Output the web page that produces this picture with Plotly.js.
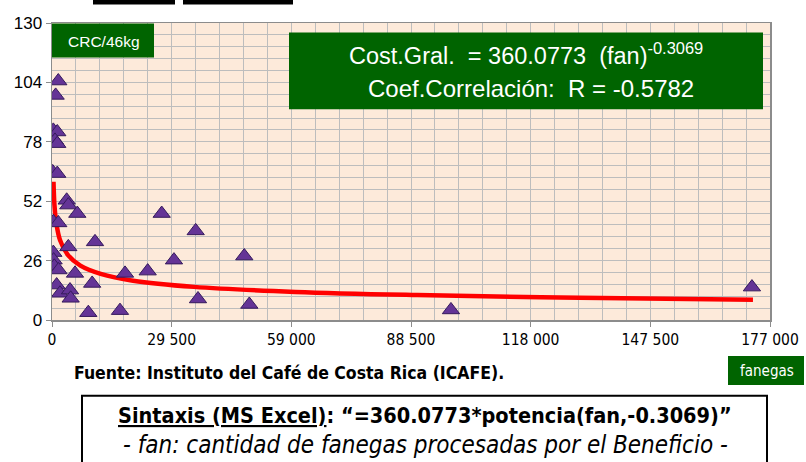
<!DOCTYPE html>
<html><head><meta charset="utf-8">
<script src="https://cdn.plot.ly/plotly-3.0.1.min.js"></script>
<style>html,body{margin:0;padding:0;background:#fff;}#chart{width:806px;height:462px;}</style>
</head><body><div id="chart"></div>
<script>
// Data
const fanegas = [1550, 900, 330, 1300, 740, 1300, 170, 1300, 3620, 4020, 6240, 330, 1550, 27040, 35420, 10600, 4020, 330, 400, 570, 1600, 5670, 18000, 23590, 30070, 47400, 1150, 1970, 4440, 4600, 9900, 35990, 48640, 8950, 16760, 98350, 172550];
const costo   = [104.6, 98.3, 83.0, 82.3, 78.6, 77.2, 64.8, 64.1, 52.4, 50.3, 46.6, 43.0, 42.5, 46.6, 39.0, 34.2, 32.0, 29.5, 26.2, 23.5, 21.9, 20.4, 20.4, 21.4, 26.2, 28.0, 15.3, 11.7, 13.1, 9.5, 16.0, 9.2, 6.8, 3.2, 4.1, 4.4, 14.4];
// Trend curve
const trendX = [370, 600, 1000, 2000, 4000, 7000, 12000, 20000, 35000, 60000, 90000, 130000, 172800];
const trendY = [60.5, 50.5, 43.2, 34.9, 28.3, 23.8, 20.2, 17.2, 14.5, 12.3, 10.9, 9.7, 8.9];
// Tick labels
const xTickVals = [0, 29500, 59000, 88500, 118000, 147500, 177000];
const xTickText = ['0', '29 500', '59 000', '88 500', '118 000', '147 500', '177 000'];
const yTickVals = [0, 26, 52, 78, 104, 130];

const W = 806, H = 462, L = 52, R = 770, T = 22.5, B = 320;
const px = v => (v - L) / (R - L);
const py = v => (B - v) / (B - T);
const green = '#006400';
const narrow = 'DejaVu Sans Condensed, Arial Narrow, sans-serif';
const arial = 'Liberation Sans, Arial, sans-serif';

const traces = [
  {x: trendX, y: trendY, type: 'scatter', mode: 'lines', line: {color: '#FF0000', width: 4.5, shape: 'spline'}, hoverinfo: 'skip'},
  {x: fanegas, y: costo, type: 'scatter', mode: 'markers',
   marker: {symbol: 'triangle-up', size: 15, color: '#643496', line: {color: '#351A5C', width: 1}}}
];

const rect = (x0, y0, x1, y1, fill, lineColor, lw) => ({type: 'rect', xref: 'paper', yref: 'paper',
  x0: px(x0), x1: px(x1), y0: py(y1), y1: py(y0), fillcolor: fill, line: {color: lineColor || fill, width: lw || 0}, layer: 'above'});

const layout = {
  width: W, height: H, showlegend: false,
  margin: {l: L, r: W - R, t: T, b: H - B, pad: 0},
  paper_bgcolor: '#FFFFFF', plot_bgcolor: '#FDEADA',
  xaxis: {range: [0, 177000], tickvals: xTickVals, ticktext: xTickText, showgrid: true, gridcolor: '#BDBDBD', gridwidth: 1,
    minor: {dtick: 5900, tick0: 0, showgrid: true, gridcolor: '#BDBDBD', gridwidth: 1},
    zeroline: false, showline: true, linecolor: '#8C8C8C', linewidth: 1.5, mirror: true,
    ticks: 'outside', ticklen: 5, tickcolor: '#8C8C8C', tickfont: {family: narrow, size: 15.5, color: '#000'}},
  yaxis: {range: [0, 130], tickvals: yTickVals, showgrid: true, gridcolor: '#BDBDBD', gridwidth: 1,
    minor: {dtick: 5.2, tick0: 0, showgrid: true, gridcolor: '#BDBDBD', gridwidth: 1},
    zeroline: false, showline: true, linecolor: '#8C8C8C', linewidth: 1.5, mirror: true,
    ticks: 'outside', ticklen: 5, tickcolor: '#8C8C8C', tickfont: {family: arial, size: 17, color: '#000'}},
  shapes: [
    rect(52, 23, 154, 57, green),
    rect(289, 32, 763, 109, green),
    rect(728, 356, 804, 385, green),
    rect(82, 396, 767, 475, 'rgba(0,0,0,0)', '#000', 2),
    rect(93, -2, 175, 4, '#000'),
    rect(183, -2, 293, 4, '#000')
  ],
  annotations: [
    {xref: 'paper', yref: 'paper', x: px(104), y: py(41), text: 'CRC/46kg', showarrow: false,
     font: {family: arial, size: 15.5, color: '#FFFFFF'}, xanchor: 'center', yanchor: 'middle'},
    {xref: 'paper', yref: 'paper', x: px(526), y: py(54), text: 'Cost.Gral. &nbsp;= 360.0773 &nbsp;(fan)<sup>-0.3069</sup>', showarrow: false,
     font: {family: arial, size: 23.5, color: '#FFFFFF'}, xanchor: 'center', yanchor: 'middle'},
    {xref: 'paper', yref: 'paper', x: px(531), y: py(88), text: 'Coef.Correlación: &nbsp;R = -0.5782', showarrow: false,
     font: {family: arial, size: 24, color: '#FFFFFF'}, xanchor: 'center', yanchor: 'middle'},
    {xref: 'paper', yref: 'paper', x: px(767), y: py(371), text: 'fanegas', showarrow: false,
     font: {family: narrow, size: 15, color: '#FFFFFF'}, xanchor: 'center', yanchor: 'middle'},
    {xref: 'paper', yref: 'paper', x: px(72), y: py(373), text: '<b>Fuente: Instituto del Café de Costa Rica (ICAFE).</b>', showarrow: false,
     font: {family: narrow, size: 17.5, color: '#000'}, xanchor: 'left', yanchor: 'middle'},
    {xref: 'paper', yref: 'paper', x: px(425), y: py(416), text: '<b><u>Sintaxis (MS Excel)</u>: “=360.0773*potencia(fan,-0.3069)”</b>', showarrow: false,
     font: {family: narrow, size: 21.5, color: '#000'}, xanchor: 'center', yanchor: 'middle'},
    {xref: 'paper', yref: 'paper', x: px(425), y: py(445), text: '<i>- fan: cantidad de fanegas procesadas por el Beneficio -</i>', showarrow: false,
     font: {family: narrow, size: 24, color: '#000'}, xanchor: 'center', yanchor: 'middle'}
  ]
};

Plotly.newPlot('chart', traces, layout, {staticPlot: true, displayModeBar: false});
</script>
</body></html>
